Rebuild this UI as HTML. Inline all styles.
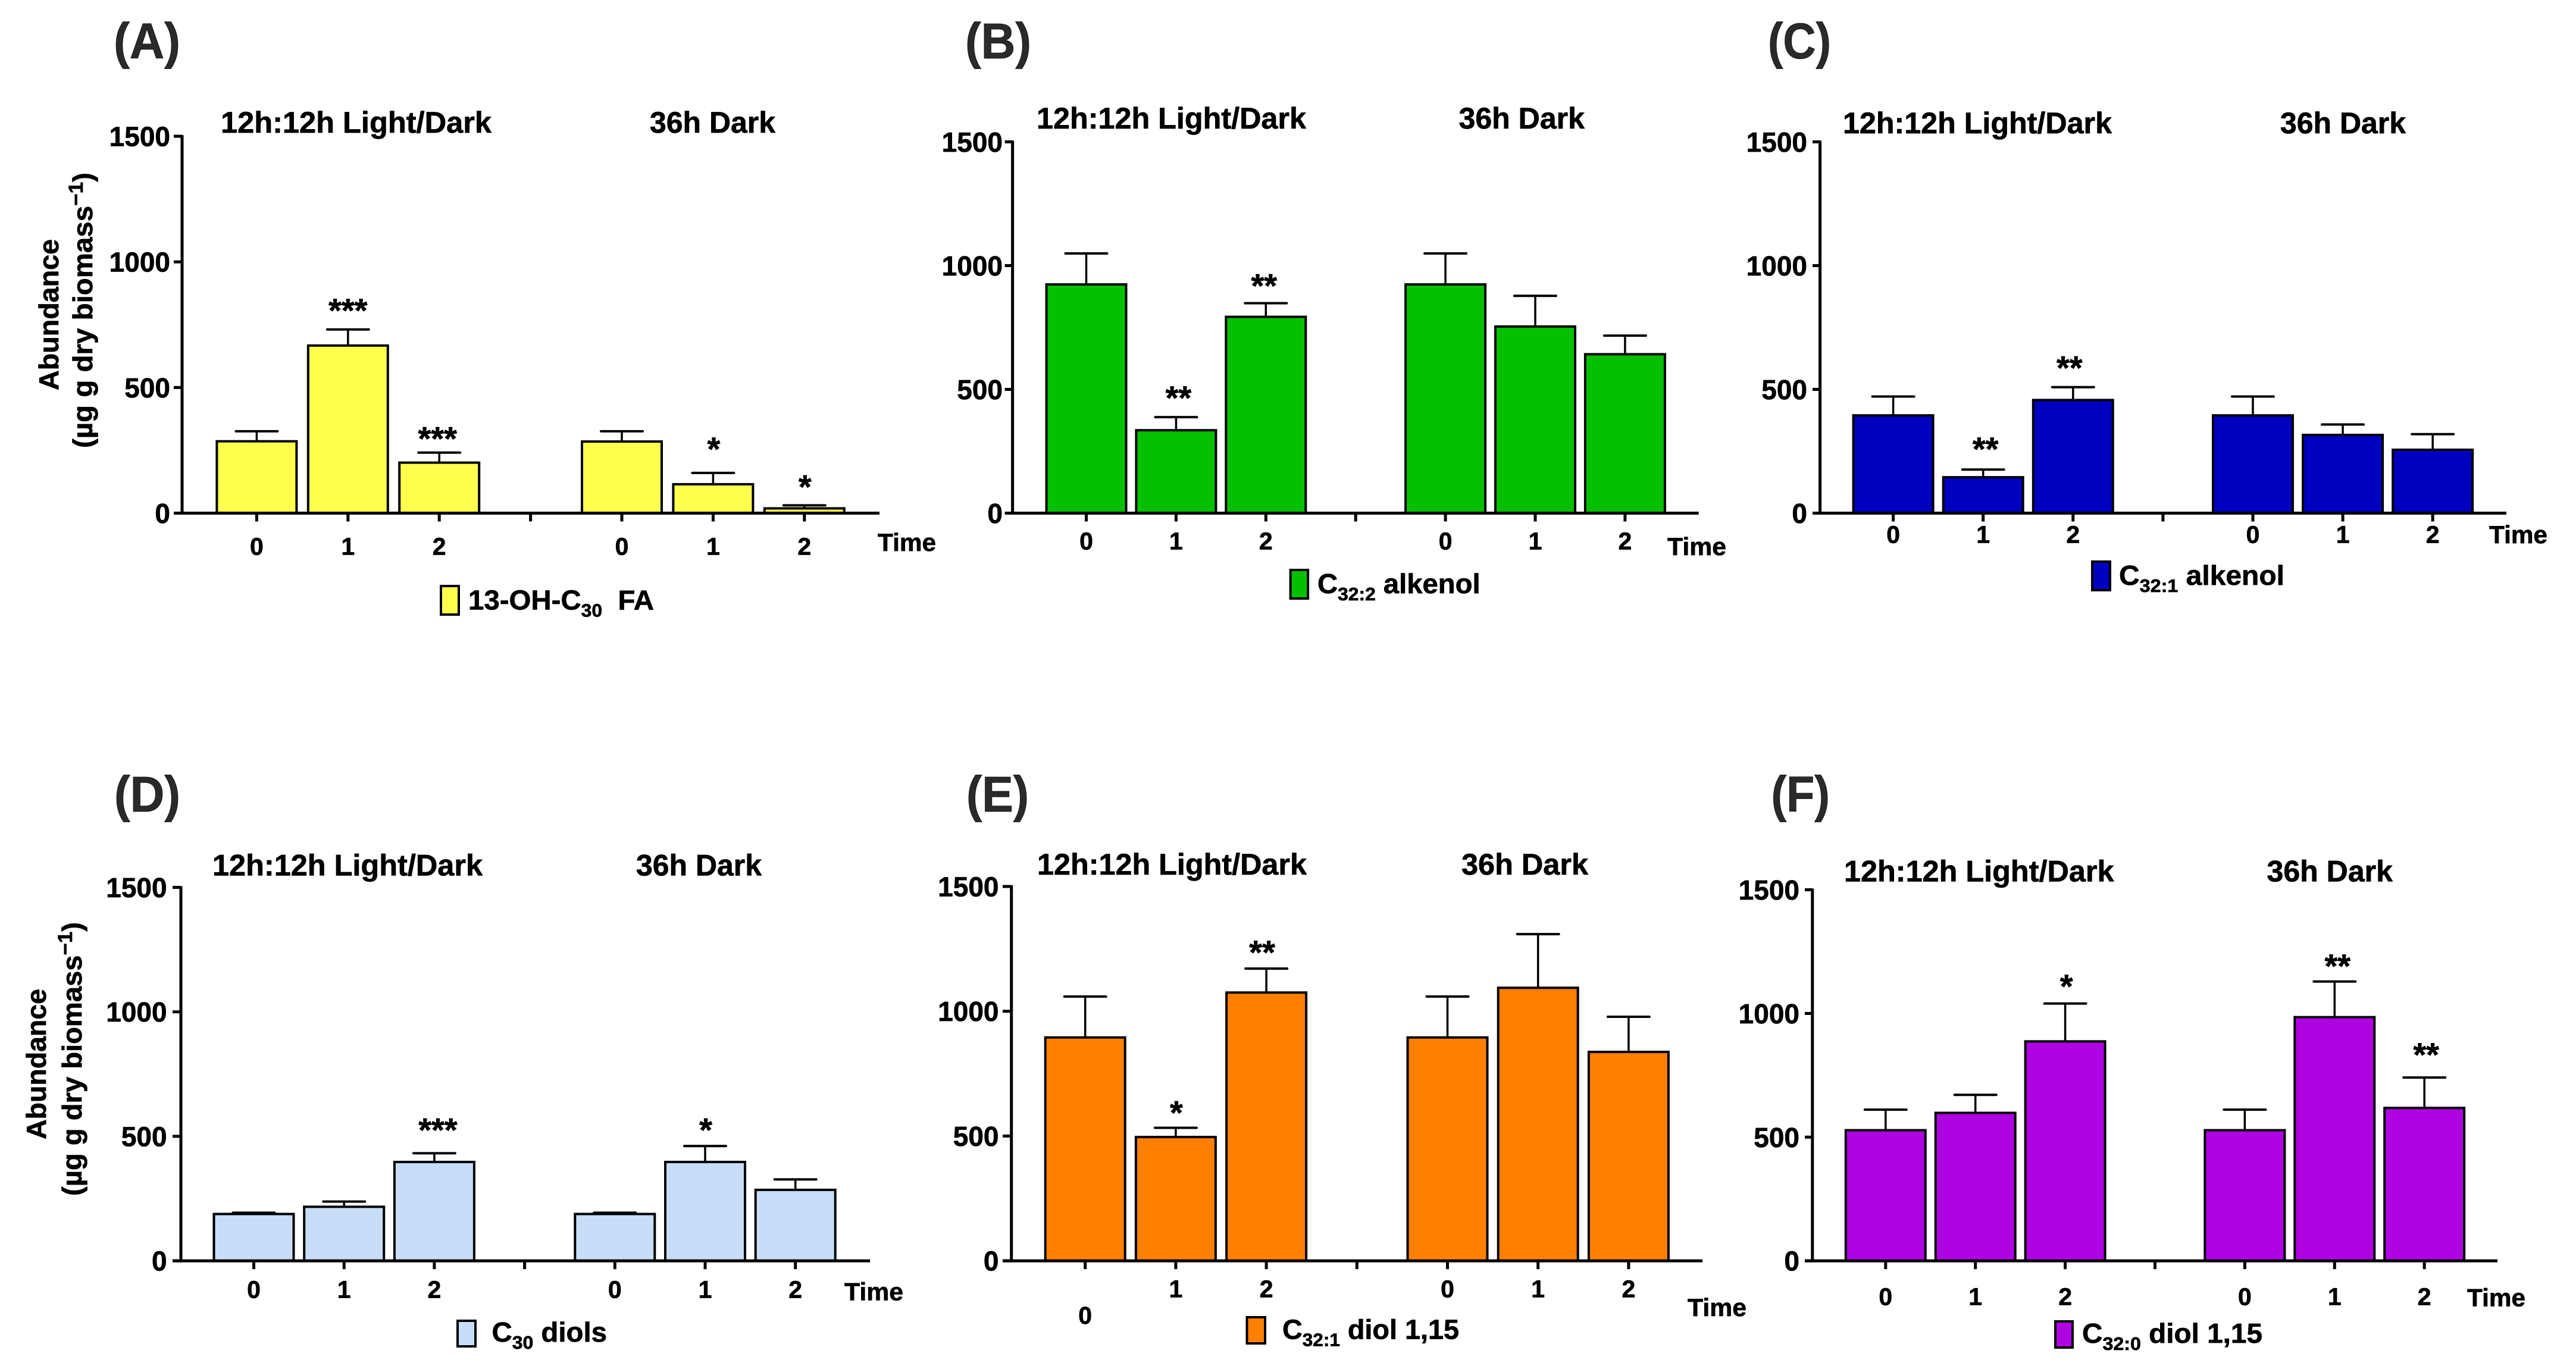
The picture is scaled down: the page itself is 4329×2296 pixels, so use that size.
<!DOCTYPE html>
<html lang="en">
<head>
<meta charset="utf-8">
<title>Abundance of lipid classes over time</title>
<style>
html,body{margin:0;padding:0;background:#fff}
#figure{display:block;width:4329px;height:2296px;background:#fff;font-family:"Liberation Sans",Arial,sans-serif;font-weight:700}
#figure text{stroke:#000;stroke-width:.7px}
</style>
</head>
<body>
<svg id="figure" xmlns="http://www.w3.org/2000/svg" width="4329" height="2296" viewBox="0 0 4329 2296"></svg>
<script>
const categories = ['0', '1', '2', '', '0', '1', '2'];
const yTickLabels = [0, 500, 1000, 1500];
const yMax = 1500;

const valuesA = [286, 667, 201, null, 285, 115, 19];
const upperA  = [326, 731, 241, null, 326, 160, 31];
const sigA    = ['', '***', '***', '', '', '*', '*'];

const valuesB = [924, 335, 793, null, 924, 754, 642];
const upperB  = [1049, 388, 848, null, 1049, 878, 717];
const sigB    = ['', '**', '**', '', '', '', ''];

const valuesC = [395, 145, 457, null, 395, 316, 256];
const upperC  = [471, 176, 509, null, 471, 358, 319];
const sigC    = ['', '**', '**', '', '', '', ''];

const valuesD = [188, 217, 397, null, 188, 397, 285];
const upperD  = [193, 238, 432, null, 193, 461, 327];
const sigD    = ['', '', '***', '', '', '*', ''];

const valuesE = [895, 496, 1075, null, 895, 1094, 837];
const upperE  = [1059, 533, 1171, null, 1059, 1309, 978];
const sigE    = ['', '*', '**', '', '', '', ''];

const valuesF = [528, 598, 887, null, 528, 985, 618];
const upperF  = [611, 671, 1040, null, 611, 1129, 741];
const sigF    = ['', '', '*', '', '', '**', '**'];

const panels = [
  { id:'a', letter:'(A)', fill:'#ffff4d', values:valuesA, upper:upperA, sig:sigA,
    sigLift:[0,40,31,0,0,48,39], sigDx:[0,0,-3,0,0,1,1],
    left:306, tickLeft:292, top:229, base:862.5, xFirst:431.4, xStep:153.4, xEnd:1478, yLabelX:286,
    tickLabelY:[918,918,918,918,918,918,918],
    letterX:191, letterW:112, letterY:98,
    title1:[371,455,223], title2:[1092,211,223],
    time:[1475,98,926],
    legendBox:[741,985,30,48], legendText:[787,312,1024.6], legend:['13-OH-C','30','\u00A0\u00A0FA'],
    yTitle:[98,529,254,155,521.5,463] },
  { id:'b', letter:'(B)', fill:'#05c000', values:valuesB, upper:upperB, sig:sigB,
    sigLift:[0,40,37,0,0,0,0], sigDx:[0,4,-3,0,0,0,0],
    left:1701.6, tickLeft:1688.6, top:238.4, base:862.5, xFirst:1825.5, xStep:150.9, xEnd:2854.7, yLabelX:1685,
    tickLabelY:[909,909,909,909,909,909,909],
    letterX:1622, letterW:111, letterY:98,
    title1:[1742,453,216], title2:[2451.5,211.5,216],
    time:[2802,99,933],
    legendBox:[2168.6,958,29.5,48], legendText:[2214,273.6,997], legend:['C','32:2','\u00A0alkenol'] },
  { id:'c', letter:'(C)', fill:'#0000bf', values:valuesC, upper:upperC, sig:sigC,
    sigLift:[0,42.5,40,0,0,0,0], sigDx:[0,4,-6,0,0,0,0],
    left:3058.6, tickLeft:3046, top:238.4, base:862.5, xFirst:3181.6, xStep:151.1, xEnd:4212, yLabelX:3037,
    tickLabelY:[898,898,898,898,898,898,898],
    letterX:2971, letterW:106, letterY:98,
    title1:[3097,452,224], title2:[3832,211,224],
    time:[4183,98,913],
    legendBox:[3516,944,30,48], legendText:[3561,278,983], legend:['C','32:1','\u00A0alkenol'] },
  { id:'d', letter:'(D)', fill:'#c8ddf8', values:valuesD, upper:upperD, sig:sigD,
    sigLift:[0,0,46.7,0,0,34.7,0], sigDx:[0,0,6,0,0,1,0],
    left:304, tickLeft:290, top:1491.5, base:2119.2, xFirst:426.5, xStep:151.7, xEnd:1462, yLabelX:280.6,
    tickLabelY:[2167,2167,2167,2167,2167,2167,2167],
    letterX:192, letterW:111, letterY:1364,
    title1:[357,454,1471.5], title2:[1069,211,1471.5],
    time:[1419,99,2185.6],
    legendBox:[769,2220,30,43], legendText:[826.5,193.5,2255], legend:['C','30','\u00A0diols'],
    yTitle:[77,1788.5,253,137,1780,460] },
  { id:'e', letter:'(E)', fill:'#ff8000', values:valuesE, upper:upperE, sig:sigE,
    sigLift:[0,33,35,0,0,0,0], sigDx:[0,1,-7,0,0,0,0],
    left:1699.7, tickLeft:1685, top:1490, base:2119.2, xFirst:1823.7, xStep:152.2, xEnd:2861, yLabelX:1678.5,
    tickLabelY:[2210.6,2166,2166,2166,2166,2166,2166],
    letterX:1624, letterW:105, letterY:1364,
    title1:[1743,453,1470], title2:[2456,213,1470],
    time:[2836,99,2212],
    legendBox:[2095.5,2214,30.5,44], legendText:[2155,297,2250.6], legend:['C','32:1','\u00A0diol 1,15'] },
  { id:'f', letter:'(F)', fill:'#ae04e2', values:valuesF, upper:upperF, sig:sigF,
    sigLift:[0,0,36.7,0,0,34,46], sigDx:[0,0,2,0,0,5,3],
    left:3045.8, tickLeft:3033, top:1495.5, base:2119.2, xFirst:3168.8, xStep:150.9, xEnd:4197, yLabelX:3024,
    tickLabelY:[2179,2179,2179,2179,2179,2179,2179],
    letterX:2976.5, letterW:98.5, letterY:1364,
    title1:[3099,453.5,1481.5], title2:[3809.5,211.5,1481.5],
    time:[4146,98,2195.6],
    legendBox:[3454,2221,29,44], legendText:[3499,303,2257], legend:['C','32:0','\u00A0diol 1,15'] }
];

const NS = 'http://www.w3.org/2000/svg';
const root = document.getElementById('figure');

function mk(parent, tag, props) {
  const el = document.createElementNS(NS, tag);
  for (const k in props) el.setAttribute(k, props[k]);
  parent.appendChild(el);
  return el;
}
function tspan(parent, str, props) {
  const el = mk(parent, 'tspan', props);
  el.textContent = str;
  return el;
}

panels.forEach(function (p) {
  const yScale = function (v) { return p.base - (v / yMax) * (p.base - p.top); };
  const xScale = function (i) { return p.xFirst + i * p.xStep; };
  const barW = 134;

  const g = mk(root, 'g', {});
  
  

  const letter = mk(g, 'text', { x:p.letterX, y:p.letterY, 'font-size':84, fill:'#2a2a2a', textLength:p.letterW, lengthAdjust:'spacingAndGlyphs' });
  letter.textContent = p.letter;
  
  

  const t1 = mk(g, 'text', { x:p.title1[0], y:p.title1[2], 'font-size':50, fill:'#000', textLength:p.title1[1], lengthAdjust:'spacingAndGlyphs' });
  t1.textContent = '12h:12h Light/Dark';
  
  

  const t2 = mk(g, 'text', { x:p.title2[0], y:p.title2[2], 'font-size':50, fill:'#000', textLength:p.title2[1], lengthAdjust:'spacingAndGlyphs' });
  t2.textContent = '36h Dark';
  
  

  if (p.yTitle) {
    const yt = p.yTitle;
    const line1 = mk(g, 'text', { transform:'translate(' + yt[0] + ',' + yt[1] + ') rotate(-90)', 'text-anchor':'middle', 'font-size':46, fill:'#000', textLength:yt[2], lengthAdjust:'spacingAndGlyphs' });
    line1.textContent = 'Abundance';
    
    

    const line2 = mk(g, 'text', { transform:'translate(' + yt[3] + ',' + yt[4] + ') rotate(-90)', 'text-anchor':'middle', 'font-size':46, fill:'#000', textLength:yt[5], lengthAdjust:'spacingAndGlyphs' });
    tspan(line2, '(\u00B5g g dry biomass', {});
    tspan(line2, '\u22121', { dy:-16, 'font-size':34 });
    tspan(line2, ')', { dy:16 });
    
    
  }

  p.values.forEach(function (v, i) {
    if (v === null) return;
    const x = xScale(i);
    const yBar = yScale(v);
    const yCap = yScale(p.upper[i]);

    const stem = mk(g, 'line', { x1:x, x2:x, y1:yBar, y2:yCap, stroke:'#000', 'stroke-width':3.5 });
    
    

    const cap = mk(g, 'line', { x1:x - 35, x2:x + 35, y1:yCap, y2:yCap, stroke:'#000', 'stroke-width':4, 'stroke-linecap':'round' });
    
    

    const bar = mk(g, 'rect', { x:x - barW / 2, y:yBar, width:barW, height:Math.max(p.base - yBar, 0), fill:p.fill, stroke:'#000', 'stroke-width':4 });
    
    

    if (p.sig[i]) {
      const star = mk(g, 'text', { x:x + p.sigDx[i], y:yCap - p.sigLift[i] + 27, 'text-anchor':'middle', 'font-size':56, fill:'#000' });
      star.textContent = p.sig[i];
      
      
    }
  });

  const yAxis = mk(g, 'line', { x1:p.left, x2:p.left, y1:p.top - 2, y2:p.base + 2, stroke:'#000', 'stroke-width':5 });
  
  

  const xAxis = mk(g, 'line', { x1:p.tickLeft, x2:p.xEnd, y1:p.base, y2:p.base, stroke:'#000', 'stroke-width':5 });
  
  

  yTickLabels.forEach(function (t) {
    const y = yScale(t);
    const tick = mk(g, 'line', { x1:p.tickLeft, x2:p.left, y1:y, y2:y, stroke:'#000', 'stroke-width':5 });
    
    

    const label = mk(g, 'text', { x:p.yLabelX, y:y + 16.5, 'text-anchor':'end', 'font-size':46, fill:'#000' });
    label.textContent = t;
    
    
  });

  categories.forEach(function (c, i) {
    const x = xScale(i);
    const tick = mk(g, 'line', { x1:x, x2:x, y1:p.base, y2:p.base + 14, stroke:'#000', 'stroke-width':5 });
    
    

    if (c !== '') {
      const label = mk(g, 'text', { x:x, y:p.tickLabelY[i] + 14.5, 'text-anchor':'middle', 'font-size':41, fill:'#000' });
      label.textContent = c;
      
      
    }
  });

  const time = mk(g, 'text', { x:p.time[0], y:p.time[2], 'font-size':42, fill:'#000', textLength:p.time[1], lengthAdjust:'spacingAndGlyphs' });
  time.textContent = 'Time';
  
  

  const box = mk(g, 'rect', { x:p.legendBox[0], y:p.legendBox[1], width:p.legendBox[2], height:p.legendBox[3], fill:p.fill, stroke:'#000', 'stroke-width':4 });
  
  

  const lt = mk(g, 'text', { x:p.legendText[0], y:p.legendText[2], 'font-size':46, fill:'#000', textLength:p.legendText[1], lengthAdjust:'spacingAndGlyphs' });
  tspan(lt, p.legend[0], {});
  tspan(lt, p.legend[1], { dy:12, 'font-size':31 });
  tspan(lt, p.legend[2], { dy:-12 });
  
  
});
</script>
</body>
</html>
